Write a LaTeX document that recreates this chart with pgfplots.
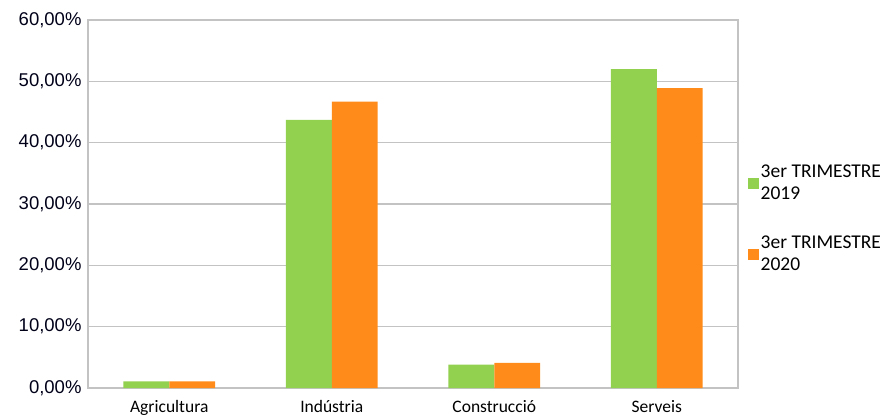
\documentclass[border=0pt]{standalone}
\usepackage{fontspec}
\setmainfont{Carlito}
\newfontfamily\arial{Liberation Sans}
\usepackage{pgfplots}
\pgfplotsset{compat=1.18}
\definecolor{grn}{HTML}{92D050}
\definecolor{org}{HTML}{FF8C1A}
\definecolor{grd}{HTML}{C3C3C3}
\begin{document}
\begin{tikzpicture}[x=1pt,y=1pt]
\begin{axis}[
 at={(0,0)}, anchor=south west,
 width=650pt, height=368pt, scale only axis,
 xmin=-0.5, xmax=3.5, ymin=0, ymax=60,
 xtick={0,1,2,3}, xticklabels={Agricultura,Indústria,Construcció,Serveis},
 ytick={0,10,20,30,40,50,60},
 yticklabels={{0,00\%},{10,00\%},{20,00\%},{30,00\%},{40,00\%},{50,00\%},{60,00\%}},
 ymajorgrids, grid style={grd, line width=1.3pt},
 axis line style={grd, line width=1.3pt},
 major tick length=0pt, tick style={draw=none},
 yticklabel style={font=\arial\fontsize{18.5}{18.5}\selectfont, xshift=-3pt, text=black!90!blue},
 xticklabel style={font=\fontsize{17.5}{17.5}\selectfont, yshift=-9pt},
 legend image code/.code={\fill[#1] (0pt,-5.5pt) rectangle (11pt,5.5pt);},
 legend cell align=left,
 legend style={draw=none, fill=none, at={(1.01,0.46)}, anchor=west,
   font=\fontsize{19.5}{22}\selectfont, nodes={align=left, inner sep=2pt},
   row sep=31pt},
]
\addplot[ybar, fill=grn, draw=none, bar width=0.283, bar shift=-0.1415]
 coordinates {(0,1.1) (1,43.7) (2,3.8) (3,52.0)};
\addlegendentry{3er TRIMESTRE\\2019}
\addplot[ybar, fill=org, draw=none, bar width=0.283, bar shift=0.1415]
 coordinates {(0,1.1) (1,46.7) (2,4.1) (3,48.9)};
\addlegendentry{3er TRIMESTRE\\2020}
\end{axis}
\pgfresetboundingbox
\path[use as bounding box] (-88pt,-30pt) rectangle (799pt,388pt);
\end{tikzpicture}
\end{document}
